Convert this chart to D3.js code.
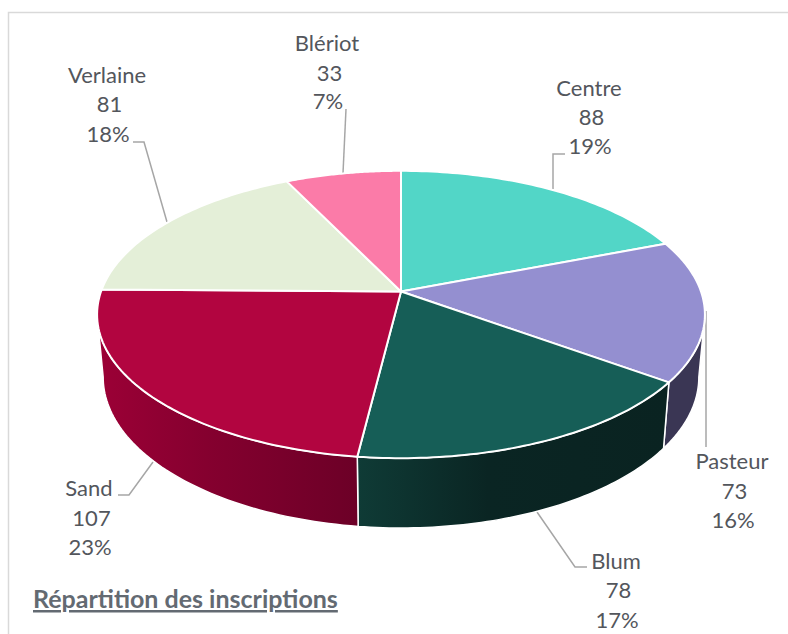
<!DOCTYPE html>
<html>
<head>
<meta charset="utf-8">
<script src="https://cdn.jsdelivr.net/npm/d3@7"></script>
<style>
html,body{margin:0;padding:0;background:#fff}
svg{display:block}
text{font-family:Lato,"Open Sans",sans-serif}
</style>
</head>
<body>
<svg id="chart" width="788" height="634"></svg>
<script>
const categories = ["Centre","Pasteur","Blum","Sand","Verlaine","Blériot"];
const values = [88,73,78,107,81,33];
const percents = ["19%","16%","17%","23%","18%","7%"];
const titleText = "Répartition des inscriptions";

const topColors = ["#52d6c7","#948fd0","#165e57","#b20540","#e4efd8","#fb7ba8"];
const sideStops = [
  ["#3a9a8f","#3a9a8f","#3a9a8f"],
  ["#3a3654","#3a3654","#3a3654"],
  ["#0f3b36","#0a2523","#0a2321"],
  ["#9c0036","#85002f","#6c0027"],
  ["#a0a898","#a0a898","#a0a898"],
  ["#b05878","#b05878","#b05878"]
];

const svg = d3.select("#chart");
const W = 788, H = 634;

// Perspective disc: unit-circle point -> screen
const cx = 401, cy = 291.5, R = 300, H1 = 140, k = 0.16;
const lowerScale = 0.98, lowerY = 353, H2 = 147;
const project = a => {
  const u = Math.sin(a), v = -Math.cos(a), d = 1 - k * v;
  return [cx + R * u / d, cy + H1 * v / d];
};
const projectLower = a => {
  const u = Math.sin(a), v = -Math.cos(a), d = 1 - k * v;
  return [cx + lowerScale * R * u / d, lowerY + H2 * v / d];
};
const arcPts = (fn, a0, a1) => d3.range(0, 61).map(i => fn(a0 + (a1 - a0) * i / 60));
const line = d3.line();

const arcs = d3.pie().sort(null).value(d => d)(values);

// frame
svg.append("path")
  .attr("d", `M${W},12.5H8.5V${H}`)
  .attr("fill", "none").attr("stroke", "#d9d9d9").attr("stroke-width", 1.5);

// leaders
const leaders = [
  [[565,154],[553,154],[553,189]],
  [[706,311],[706,447]],
  [[537,512],[575,567],[587,567]],
  [[153,462],[129,495],[118,495]],
  [[133,142],[144,142],[167,222]],
  [[346,109],[343,173]]
];
svg.append("g").selectAll("path").data(leaders).join("path")
  .attr("d", d => line(d))
  .attr("fill", "none").attr("stroke", "#a6a6a6").attr("stroke-width", 1.5);

// side gradients
const defs = svg.append("defs");
sideStops.forEach((s, i) => {
  const g = defs.append("linearGradient").attr("id", "side" + i);
  g.append("stop").attr("offset", "0%").attr("stop-color", s[0]);
  g.append("stop").attr("offset", "42%").attr("stop-color", s[1]);
  g.append("stop").attr("offset", "100%").attr("stop-color", s[2]);
});

// visible sides: front half of the silhouette only
const visFrom = Math.acos(-k), visTo = 2 * Math.PI - Math.acos(-k);
const sides = svg.append("g");
arcs.forEach((d, i) => {
  const a0 = Math.max(d.startAngle, visFrom), a1 = Math.min(d.endAngle, visTo);
  if (a1 <= a0) return;
  const pts = arcPts(project, a0, a1).concat(arcPts(projectLower, a0, a1).reverse());
  sides.append("path")
    .attr("d", line(pts) + "Z")
    .attr("fill", `url(#side${i})`)
    .attr("stroke", "#fff").attr("stroke-width", 1.5).attr("stroke-linejoin", "round");
});

// top slices
svg.append("g").selectAll("path").data(arcs).join("path")
  .attr("d", d => line([[cx, cy]].concat(arcPts(project, d.startAngle, d.endAngle))) + "Z")
  .attr("fill", (d, i) => topColors[i])
  .attr("stroke", "#fff").attr("stroke-width", 2).attr("stroke-linejoin", "round");

// labels
const labelPos = [
  {x:589, y:[96,125,154]},
  {x:732, y:[469,499,528]},
  {x:616, y:[569,598,628]},
  {x:89,  y:[496,526,555]},
  {x:107, y:[83,112,142]},
  {x:327, y:[51,81,109]}
];
const lineShift = [0, 2.5, 1];
const lg = svg.append("g").attr("fill", "#53565c").attr("font-size", 22).attr("text-anchor", "middle");
categories.forEach((c, i) => {
  [c, String(values[i]), percents[i]].forEach((t, j) => {
    lg.append("text").attr("x", labelPos[i].x + lineShift[j]).attr("y", labelPos[i].y[j]).text(t);
  });
});

// title
svg.append("text")
  .attr("x", 33).attr("y", 608)
  .attr("font-size", 25).attr("font-weight", 700)
  .attr("fill", "#636a72").attr("text-decoration", "underline")
  .text(titleText);
</script>
</body>
</html>
